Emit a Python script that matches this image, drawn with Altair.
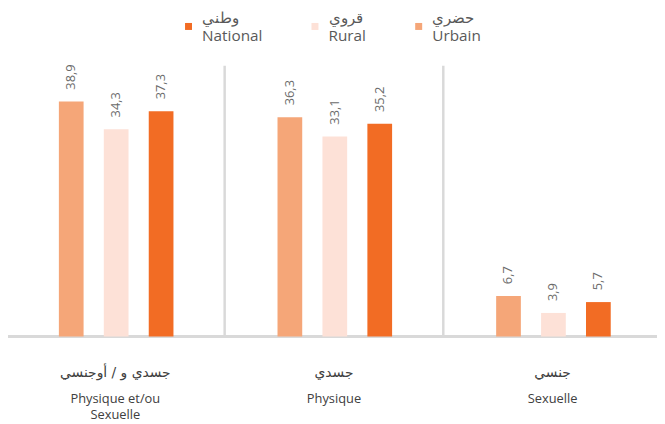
import altair as alt
import pandas as pd

# ---- data ----
groups_fr = ["Physique et/ou\nSexuelle", "Physique", "Sexuelle"]
groups_ar = ["جسدي و / أوجنسي", "جسدي", "جنسي"]
series_fr = ["Urbain", "Rural", "National"]
series_ar = ["حضري", "قروي", "وطني"]
urbain = [38.9, 36.3, 6.7]
rural = [34.3, 33.1, 3.9]
national = [37.3, 35.2, 5.7]
colors = {"National": "#F26C24", "Rural": "#FDE1D7", "Urbain": "#F5A678"}
legend_order = ["National", "Rural", "Urbain"]

rows = []
for s, vals in zip(series_fr, [urbain, rural, national]):
    for g, v in zip(groups_fr, vals):
        rows.append({"group": g, "series": s, "value": v,
                     "label": f"{v:.1f}".replace(".", ",")})
df = pd.DataFrame(rows)
cat_df = pd.DataFrame({"group": groups_fr, "ar": groups_ar})

W, H = 657, 274
grid_color = "#D9D9D9"
text_color = "#595959"

xscale = alt.Scale(domain=groups_fr, range=[-2, 662], paddingInner=0, paddingOuter=0)
yscale = alt.Scale(domain=[0, 44.8])
xoff = alt.XOffset("series:N", sort=series_fr,
                   scale=alt.Scale(range=[53.5, 169.5], paddingInner=0.45, paddingOuter=0))

ar_map = dict(zip(series_fr, series_ar))
label_expr = ""
for s in series_fr:
    label_expr += f"datum.label == '{s}' ? ['{ar_map[s]}', '{s}'] : "
label_expr += "datum.label"

bars = alt.Chart(df).mark_bar().encode(
    x=alt.X("group:N", scale=xscale, axis=None),
    xOffset=xoff,
    y=alt.Y("value:Q", scale=yscale, axis=None),
    color=alt.Color(
        "series:N",
        scale=alt.Scale(domain=legend_order, range=[colors[k] for k in legend_order]),
        legend=alt.Legend(
            orient="none", direction="horizontal", legendX=175, legendY=-48,
            title=None, symbolType="square", symbolSize=50, symbolStrokeWidth=0,
            labelFontSize=15.5, labelColor=text_color, labelFont="Open Sans",
            labelExpr=label_expr, columnPadding=45, labelOffset=6,
        ),
    ),
)

values = alt.Chart(df).mark_text(
    angle=270, align="left", baseline="middle", dx=12, fontSize=13,
    color="#6b6b6b", font="Open Sans"
).encode(
    x=alt.X("group:N", scale=xscale, axis=None),
    xOffset=xoff,
    y=alt.Y("value:Q", scale=yscale, axis=None),
    text="label:N",
)

seps = alt.Chart(cat_df).mark_rule(color=grid_color, strokeWidth=2.5).encode(
    x=alt.X("group:N", scale=xscale, axis=None, bandPosition=0),
    y=alt.value(0),
    y2=alt.value(H),
)

baseline = alt.Chart(cat_df).mark_rule(color=grid_color, strokeWidth=2.5).encode(
    x=alt.value(-2), x2=alt.value(W), y=alt.value(H)
)

lab_ar = alt.Chart(cat_df).mark_text(
    fontSize=14, color="#404040", font="DejaVu Sans", baseline="middle"
).encode(
    x=alt.X("group:N", scale=xscale, axis=None, bandPosition=0.5),
    y=alt.value(H + 37),
    text="ar:N",
)

lab_fr = alt.Chart(cat_df).mark_text(
    fontSize=13, color="#404040", font="Open Sans", baseline="middle",
    lineBreak="\n", lineHeight=17
).encode(
    x=alt.X("group:N", scale=xscale, axis=None, bandPosition=0.5),
    y=alt.value(H + 63),
    text="group:N",
)

chart = alt.layer(seps, baseline, bars, values, lab_ar, lab_fr).properties(
    width=W, height=H,
    autosize=alt.AutoSizeParams(type="none"),
    padding={"left": 0, "top": 56, "right": 0, "bottom": 86},
).configure(
    view={"stroke": "transparent"},
    style={"guide-label": {"lineHeight": 19, "dy": -9}},
)

chart.save("out.html", embed_options={"renderer": "svg", "actions": False})
